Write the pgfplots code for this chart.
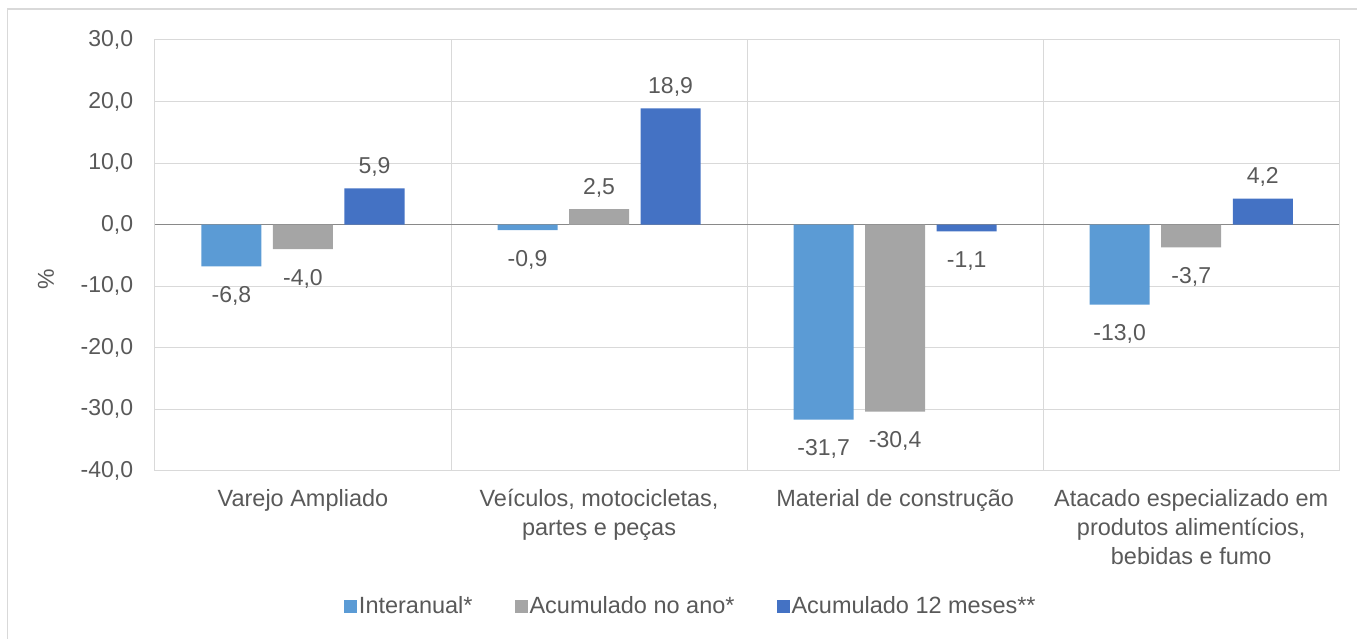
\documentclass[border=0pt]{standalone}
\usepackage{pgfplots}
\pgfplotsset{compat=1.18}
\usepackage{fontspec}
\setmainfont{Liberation Sans}
\definecolor{cA}{HTML}{5B9BD5}
\definecolor{cB}{HTML}{A5A5A5}
\definecolor{cC}{HTML}{4472C4}
\definecolor{gridc}{HTML}{D9D9D9}
\definecolor{zeroc}{HTML}{898989}
\definecolor{txt}{HTML}{595959}
\begin{document}
\begin{tikzpicture}
\fontsize{23}{28}\selectfont
\begin{axis}[
  scale only axis, width=1185pt, height=431pt,
  ymin=-40, ymax=30, ytick={-40,-30,...,30},
  xmin=-0.5, xmax=3.5,
  xtick={0,1,2,3},
  xticklabels={{Varejo Ampliado},{Veículos, motocicletas,\\partes e peças},{Material de construção},{Atacado especializado em\\produtos alimentícios,\\bebidas e fumo}},
  xticklabel style={align=center, text=txt, font=\fontsize{23.5}{29}\selectfont, yshift=-11pt},
  minor xtick={0.5,1.5,2.5},
  xminorgrids, ymajorgrids,
  grid style={gridc, line width=1pt},
  minor grid style={gridc, line width=1pt},
  major tick length=0pt, minor tick length=0pt,
  axis line style={gridc, line width=1pt},
  /pgf/number format/assume math mode=true,
  yticklabel style={/pgf/number format/fixed, /pgf/number format/fixed zerofill, /pgf/number format/precision=1, /pgf/number format/use comma, text=txt, xshift=-14pt},
  extra y ticks={0}, extra y tick labels={},
  extra y tick style={grid style={zeroc, line width=1.2pt}},
  ylabel={\%}, ylabel style={at={(axis description cs:-0.092,0.445)}, anchor=center, text=txt},
  ybar, bar width=0.2027,
  nodes near coords,
  visualization depends on={y \as \yv},
  every node near coord/.append style={text=txt, /pgf/number format/fixed, /pgf/number format/fixed zerofill, /pgf/number format/precision=1, /pgf/number format/use comma, font=\fontsize{23}{28}\selectfont, yshift={\yv<0 ? -12 : 4}},
  legend style={at={(0.4525,-0.3156)}, anchor=center, draw=none, legend columns=3, text=txt, font=\fontsize{23.5}{28}\selectfont,
    /tikz/every even column/.append style={column sep=40pt}},
  legend image code/.code={\fill[#1] (-3pt,-6pt) rectangle (10pt,7pt);},
  legend cell align=left,
  clip=false,
]
\addplot[fill=cA, draw=none, bar shift=-0.2416] coordinates {(0,-6.8) (1,-0.9) (2,-31.7) (3,-13.0)};
\addplot[fill=cB, draw=none, bar shift=0] coordinates {(0,-4.0) (1,2.5) (2,-30.4) (3,-3.7)};
\addplot[fill=cC, draw=none, bar shift=0.2416] coordinates {(0,5.9) (1,18.9) (2,-1.1) (3,4.2)};
\legend{Interanual*, Acumulado no ano*, Acumulado 12 meses**}
\coordinate (O) at (rel axis cs:0,0);
\end{axis}
\pgfresetboundingbox
\draw[gridc, line width=1.5pt] ([shift={(-147.5pt,-168pt)}]O) -- ([shift={(-147.5pt,462pt)}]O) -- ([shift={(1203pt,462pt)}]O);
\path[use as bounding box] ([shift={(-155pt,-168pt)}]O) rectangle ([shift={(1203pt,471pt)}]O);
\end{tikzpicture}
\end{document}
